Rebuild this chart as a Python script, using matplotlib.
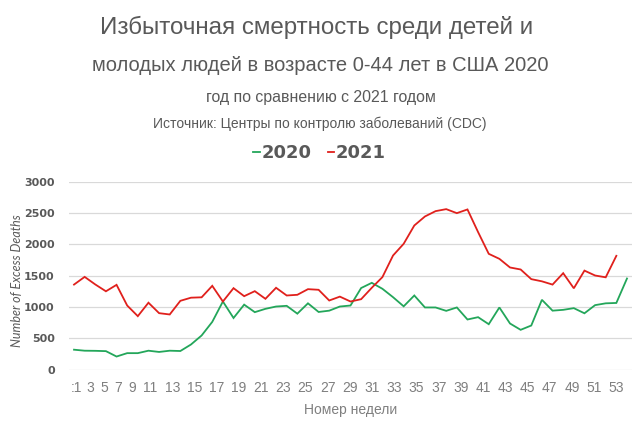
import matplotlib
matplotlib.use("Agg")
import matplotlib.pyplot as plt
from matplotlib.lines import Line2D

# ---- data ----
weeks_2020 = list(range(1, 54))
weeks_2021 = list(range(1, 53))
deaths_2020 = [316, 300, 298, 293, 207, 261, 261, 300, 280, 300, 295, 399, 543, 760,
               1085, 822, 1035, 915, 968, 1005, 1016, 891, 1056, 918, 939, 1005, 1021,
               1300, 1383, 1288, 1154, 1008, 1181, 990, 990, 936, 990, 798, 835, 723,
               990, 734, 633, 702, 1112, 939, 952, 979, 897, 1027, 1056, 1062, 1452]
deaths_2021 = [1355, 1478, 1357, 1248, 1351, 1021, 851, 1066, 899, 878, 1096, 1146,
               1152, 1335, 1085, 1298, 1170, 1250, 1128, 1304, 1181, 1192, 1282, 1272,
               1101, 1163, 1085, 1122, 1304, 1474, 1819, 2006, 2298, 2442, 2527, 2559,
               2495, 2554, 2192, 1846, 1766, 1628, 1596, 1442, 1407, 1355, 1537, 1296,
               1578, 1500, 1471, 1814]
series_names = ["2020", "2021"]
tick_weeks = list(range(1, 54, 2))
tick_labels = [":1"] + [str(w) for w in tick_weeks[1:]]
y_ticks = [0, 500, 1000, 1500, 2000, 2500, 3000]

GREEN = "#23a65a"
RED = "#e0201c"
GRAY = "#595959"
LGRAY = "#7f7f7f"

W, H = 639, 423
fig = plt.figure(figsize=(W / 100, H / 100), dpi=100)
ax_left, ax_right, ax_bottom, ax_top = 68.7, 632.3, 369.5, 181.5
ax = fig.add_axes([ax_left / W, 1 - ax_bottom / H, (ax_right - ax_left) / W,
                   (ax_bottom - ax_top) / H])

ax.plot(weeks_2020, deaths_2020, color=GREEN, lw=1.3, solid_joinstyle="miter")
ax.plot(weeks_2021, deaths_2021, color=RED, lw=1.3, solid_joinstyle="miter")

ax.set_xlim(0.5, 53.5)
ax.set_ylim(0, 3000)
ax.set_yticks(y_ticks)
ax.grid(axis="y", color="#d9d9d9", lw=0.9)
ax.set_axisbelow(True)
for s in ax.spines.values():
    s.set_visible(False)

# tick labels laid out as flowing text (as in the reference)
px_per_unit = (ax_right - ax_left) / 53.0
char_w, space_w = 8.2, 5.8
centers_px = [76.0]
nums = [str(w) for w in tick_weeks]
for a, b in zip(nums[:-1], nums[1:]):
    centers_px.append(centers_px[-1] + (len(a) + len(b)) / 2 * char_w + space_w)
tick_pos = [0.5 + (p - ax_left) / px_per_unit for p in centers_px]
ax.set_xticks(tick_pos)
ax.set_xticklabels(tick_labels, fontsize=10, color=LGRAY, family="Liberation Sans")
ax.tick_params(axis="x", length=0, pad=8)
ax.tick_params(axis="y", length=0, pad=10, labelsize=8, labelcolor=GRAY)
for t in ax.get_yticklabels():
    t.set_fontweight("bold")
    t.set_family("DejaVu Sans")

ax.set_xlabel("Номер недели", fontsize=10, color=LGRAY, family="Liberation Sans",
              labelpad=6)
fig.text(17 / W, 1 - 281 / H, "Number of Excess Deaths", rotation=90, ha="center",
         va="center", fontsize=9, style="italic", color=GRAY, family="Lato")

# titles
fig.text(316.5 / W, 1 - 34 / H, "Избыточная смертность среди детей и", ha="center",
         va="baseline", fontsize=17.4, color=GRAY, family="Liberation Sans")
fig.text(320 / W, 1 - 71 / H, "молодых людей в возрасте 0-44 лет в США 2020",
         ha="center", va="baseline", fontsize=14.5, color=GRAY, family="Liberation Sans")
fig.text(321 / W, 1 - 102 / H, "год по сравнению с 2021 годом", ha="center",
         va="baseline", fontsize=11.4, color=GRAY, family="Liberation Sans")
fig.text(320 / W, 1 - 128 / H, "Источник: Центры по контролю заболеваний (CDC)",
         ha="center", va="baseline", fontsize=10, color=GRAY, family="Liberation Sans")

handles = [Line2D([], [], color=GREEN, lw=1.3), Line2D([], [], color=RED, lw=1.3)]
leg = fig.legend(handles, series_names, loc="center", bbox_to_anchor=(319.5 / W, 1 - 153 / H),
                 ncol=2, frameon=False, handlelength=0.35, handletextpad=0.1,
                 columnspacing=0.9, prop={"family": "DejaVu Sans", "weight": "bold",
                                          "size": 13})
for t in leg.get_texts():
    t.set_color(GRAY)

fig.savefig("out.png", dpi=100, facecolor="white")
